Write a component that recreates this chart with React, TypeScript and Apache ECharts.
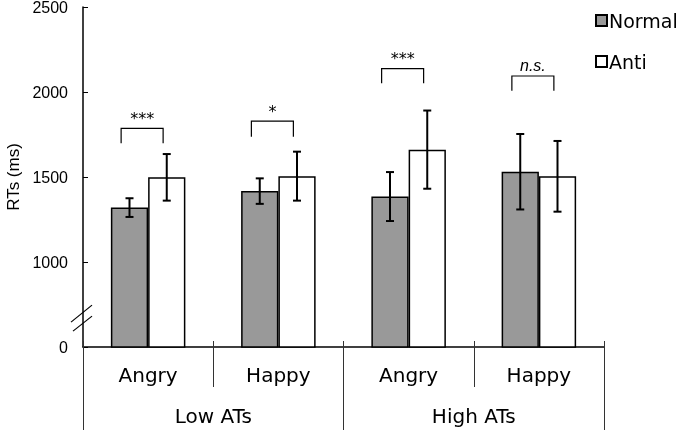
import React, { useEffect, useRef } from "react";
import * as echarts from "echarts";

const categories = ["Angry", "Happy", "Angry", "Happy"];
const groups = ["Low ATs", "High ATs"];
const normalMean = [1320, 1417, 1385, 1531];
const normalErr = [55, 75, 144, 222];
const antiMean = [1498, 1505, 1661, 1504];
const antiErr = [137, 144, 230, 208];
const bracketTop = [1786, 1829, 2137, 2094];
const bracketLeg = [1698, 1737, 2051, 2008];
const bracketLabel = ["***", "*", "***", "n.s."];
const yTicks = [500, 1000, 1500, 2000, 2500];
const yTickLabels = ["0", "1000", "1500", "2000", "2500"];
const breakValue = 670;

const BAR_FRAC = 0.286;

export default function App() {
  const ref = useRef<HTMLDivElement>(null);
  useEffect(() => {
    if (!ref.current) return;
    const chart = echarts.init(ref.current, null, { renderer: "svg" });

    const errSeries = (means: number[], errs: number[], side: number) => ({
      type: "custom",
      xAxisIndex: 0,
      yAxisIndex: 0,
      z: 5,
      silent: true,
      data: means.map((m, i) => [i, m - errs[i], m + errs[i]]),
      encode: { x: 0, y: [1, 2] },
      renderItem: (params: any, api: any) => {
        const i = api.value(0);
        const lo = api.coord([i, api.value(1)]);
        const hi = api.coord([i, api.value(2)]);
        const band = api.size([1, 0])[0];
        const x = lo[0] + (side * band * BAR_FRAC) / 2;
        const cap = 4;
        const st = { stroke: "#000", lineWidth: 2 };
        return {
          type: "group",
          children: [
            { type: "line", shape: { x1: x, y1: lo[1], x2: x, y2: hi[1] }, style: st },
            { type: "line", shape: { x1: x - cap, y1: lo[1], x2: x + cap, y2: lo[1] }, style: st },
            { type: "line", shape: { x1: x - cap, y1: hi[1], x2: x + cap, y2: hi[1] }, style: st },
          ],
        };
      },
    });

    const option: any = {
      animation: false,
      textStyle: { fontFamily: "Liberation Sans" },
      grid: { left: 83, right: 81, top: 7, bottom: 84, containLabel: false, outerBoundsMode: "none" },
      legend: {
        data: ["Normal", "Anti"],
        orient: "vertical",
        left: 595,
        top: 11,
        padding: 0,
        itemWidth: 11,
        itemHeight: 11,
        itemGap: 22,
        icon: "rect",
        textStyle: { fontFamily: "DejaVu Sans", fontSize: 19, color: "#000", padding: [0, 0, 0, -3] },
      },
      xAxis: [
        {
          type: "category",
          data: categories,
          position: "bottom",
          axisLine: { show: true, lineStyle: { color: "#000", width: 1.5 } },
          axisTick: { show: true, length: 40, lineStyle: { color: "#333", width: 1 } },
          axisLabel: { margin: 18, fontFamily: "DejaVu Sans", fontSize: 20, color: "#000" },
        },
        {
          type: "category",
          data: groups,
          position: "bottom",
          axisLine: { show: false },
          axisTick: { show: true, length: 83, lineStyle: { color: "#333", width: 1 } },
          axisLabel: { margin: 59, fontFamily: "DejaVu Sans", fontSize: 20, color: "#000" },
        },
        {
          type: "category",
          data: categories,
          position: "bottom",
          axisLine: { show: false },
          axisTick: { show: true, inside: true, length: 6, lineStyle: { color: "#333", width: 1 } },
          axisLabel: { show: false },
        },
      ],
      yAxis: {
        type: "value",
        min: 500,
        max: 2500,
        interval: 500,
        name: "RTs (ms)",
        nameLocation: "middle",
        nameRotate: 90,
        nameGap: 59,
        nameTextStyle: { fontFamily: "Liberation Sans", fontSize: 17, color: "#000" },
        axisLine: { show: true, lineStyle: { color: "#000", width: 1.5 } },
        axisTick: { show: true, inside: true, length: 5, lineStyle: { color: "#000", width: 1 } },
        splitLine: { show: false },
        axisLabel: {
          margin: 15,
          fontSize: 16,
          fontFamily: "Liberation Sans",
          color: "#000",
          formatter: (v: number) => {
            const k = yTicks.indexOf(v);
            return k >= 0 ? yTickLabels[k] : "";
          },
        },
      },
      series: [
        {
          name: "Normal",
          type: "bar",
          xAxisIndex: 0,
          data: normalMean,
          barWidth: BAR_FRAC * 100 + "%",
          barGap: "0%",
          itemStyle: { color: "#999999", borderColor: "#000", borderWidth: 1.5 },
        },
        {
          name: "Anti",
          type: "bar",
          xAxisIndex: 0,
          data: antiMean,
          barWidth: BAR_FRAC * 100 + "%",
          barGap: "0%",
          itemStyle: { color: "#ffffff", borderColor: "#000", borderWidth: 1.5 },
        },
        errSeries(normalMean, normalErr, -1),
        errSeries(antiMean, antiErr, 1),
        {
          type: "custom",
          xAxisIndex: 0,
          yAxisIndex: 0,
          z: 6,
          silent: true,
          data: bracketTop.map((t, i) => [i, t, bracketLeg[i]]),
          encode: { x: 0, y: [1, 2] },
          renderItem: (params: any, api: any) => {
            const i = api.value(0);
            const top = api.coord([i, api.value(1)]);
            const leg = api.coord([i, api.value(2)]);
            const cx = top[0];
            const x1 = cx - 27;
            const x2 = cx + 15;
            const lab = bracketLabel[i];
            const italic = lab === "n.s.";
            return {
              type: "group",
              children: [
                {
                  type: "polyline",
                  shape: { points: [[x1, leg[1]], [x1, top[1]], [x2, top[1]], [x2, leg[1]]] },
                  style: { stroke: "#000", lineWidth: 1.2, fill: "none" },
                },
                {
                  type: "text",
                  x: (x1 + x2) / 2,
                  y: top[1] - (italic ? 3 : 2),
                  style: {
                    text: lab,
                    fill: "#000",
                    fontFamily: italic ? "Liberation Sans" : "DejaVu Sans",
                    fontStyle: italic ? "italic" : "normal",
                    fontSize: 16,
                    align: "center",
                    verticalAlign: "bottom",
                  },
                },
              ],
            };
          },
        },
        {
          type: "custom",
          xAxisIndex: 0,
          yAxisIndex: 0,
          z: 7,
          silent: true,
          clip: false,
          data: [[0, breakValue]],
          encode: { x: 0, y: 1 },
          renderItem: (params: any, api: any) => {
            const p = api.coord([0, api.value(1)]);
            const ax = params.coordSys.x;
            const y = p[1];
            const st = { stroke: "#000", lineWidth: 1.2 };
            return {
              type: "group",
              children: [
                { type: "line", shape: { x1: ax - 12, y1: y + 4, x2: ax + 9, y2: y - 13 }, style: st },
                { type: "line", shape: { x1: ax - 10, y1: y + 13, x2: ax + 9, y2: y - 2 }, style: st },
              ],
            };
          },
        },
      ],
    };
    chart.setOption(option);
    return () => chart.dispose();
  }, []);
  return <div ref={ref} style={{ position: "fixed", left: 0, top: 0, width: 685, height: 431 }} />;
}
